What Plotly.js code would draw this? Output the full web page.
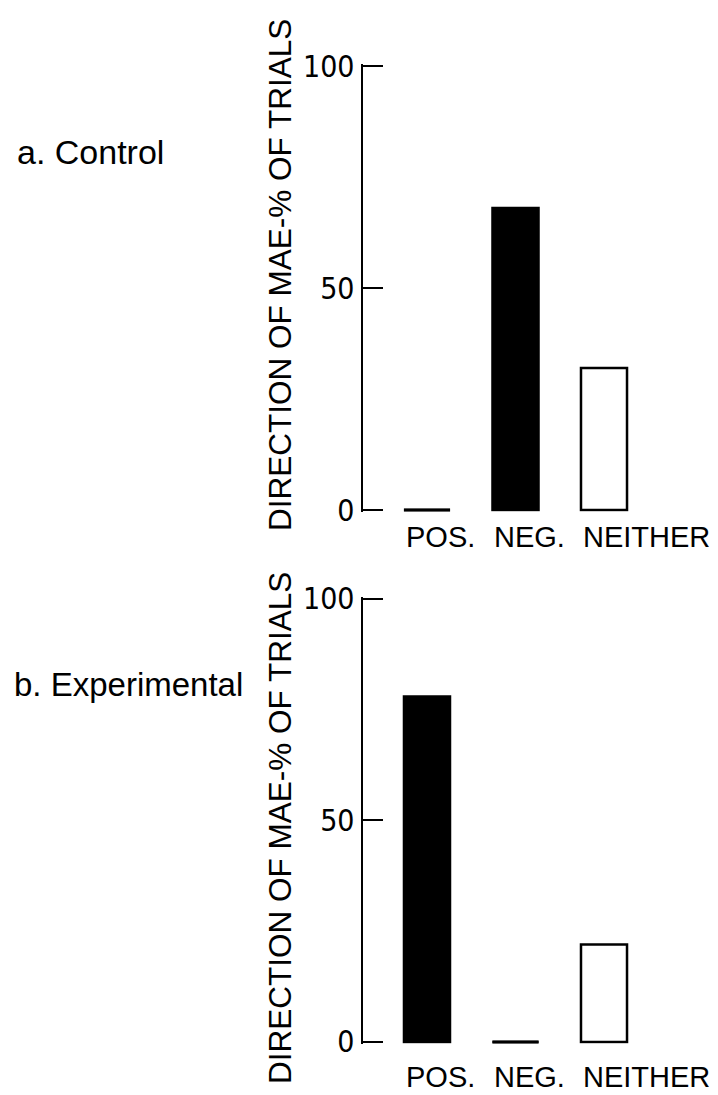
<!DOCTYPE html>
<html>
<head>
<meta charset="utf-8">
<script src="https://cdn.plot.ly/plotly-3.0.1.min.js"></script>
<style>html,body{margin:0;padding:0;background:#fff;}#chart{width:718px;height:1095px;}</style>
</head>
<body>
<div id="chart"></div>
<script>
// Data
const categories = ['POS.', 'NEG.', 'NEITHER'];
const controlValues = [0, 68, 32];
const experimentalValues = [78, 0, 22];
const barFills = ['black', 'black', 'white'];
const yTickVals = [0, 50, 100];
const yTickText = ['0', '50', '100'];
const panelLabels = ['a. Control', 'b. Experimental'];
const yTitle = 'DIRECTION OF MAE-% OF TRIALS';

const W = 718, H = 1095;
const catIdx = categories.map((c, i) => i);
const FONT = 'Liberation Sans, Arial, sans-serif';
const NARROW = 'Liberation Sans Narrow, DejaVu Sans Condensed, Arial Narrow, sans-serif';
const BAR_W = 0.52;

function barTrace(vals, xa, ya) {
  return {
    type: 'bar', x: catIdx, y: vals, xaxis: xa, yaxis: ya, width: BAR_W,
    marker: {color: barFills, line: {color: 'black', width: 2.5}},
    hoverinfo: 'skip', showlegend: false
  };
}
function zeroTrace(vals, xa, ya) {
  const xs = [], ys = [];
  vals.forEach((v, i) => { if (v === 0) { xs.push(i); ys.push(v); } });
  return {
    type: 'scatter', mode: 'markers', x: xs, y: ys, xaxis: xa, yaxis: ya,
    marker: {symbol: 'line-ew', size: 33, line: {color: 'black', width: 3}},
    hoverinfo: 'skip', showlegend: false, cliponaxis: false
  };
}

const data = [
  barTrace(controlValues, 'x', 'y'), zeroTrace(controlValues, 'x', 'y'),
  barTrace(experimentalValues, 'x2', 'y2'), zeroTrace(experimentalValues, 'x2', 'y2')
];

const xDom = [363 / W, 1];
const xRange = [-0.723, 3.288];
// y range padded slightly so the end ticks (0 and 100) are drawn
const yRange = [-0.4, 100.4];
function yDomain(px0, px100) {
  const per = (px0 - px100) / 100;
  return [1 - (px0 + 0.4 * per) / H, 1 - (px100 - 0.4 * per) / H];
}
const topDom = yDomain(510, 66);
const botDom = yDomain(1042, 599);

function xAxis(anchor) {
  return {
    domain: xDom, range: xRange, anchor: anchor,
    showticklabels: false, showline: false, showgrid: false, zeroline: false, ticks: '',
    fixedrange: true
  };
}
function yAxis(anchor, dom) {
  return {
    domain: dom, range: yRange, anchor: anchor,
    tickmode: 'array', tickvals: yTickVals, ticktext: yTickText,
    showline: true, linecolor: 'black', linewidth: 2.5,
    ticks: 'inside', ticklen: 20, tickwidth: 2, tickcolor: 'black',
    showgrid: false, zeroline: false,
    tickfont: {family: NARROW, size: 30, color: 'black'}, fixedrange: true
  };
}

const annotations = [
  {text: panelLabels[0], xref: 'paper', yref: 'paper', x: 15 / W, y: 1 - 152 / H,
   xanchor: 'left', yanchor: 'middle', showarrow: false,
   font: {family: FONT, size: 34, color: 'black'}},
  {text: panelLabels[1], xref: 'paper', yref: 'paper', x: 12 / W, y: 1 - 684 / H,
   xanchor: 'left', yanchor: 'middle', showarrow: false,
   font: {family: FONT, size: 33, color: 'black'}},
  {text: yTitle, xref: 'paper', yref: 'paper', x: 280 / W, y: 1 - 275 / H,
   xanchor: 'center', yanchor: 'middle', textangle: -90, showarrow: false,
   font: {family: FONT, size: 31.5, color: 'black'}},
  {text: yTitle, xref: 'paper', yref: 'paper', x: 280 / W, y: 1 - 828 / H,
   xanchor: 'center', yanchor: 'middle', textangle: -90, showarrow: false,
   font: {family: FONT, size: 31.5, color: 'black'}}
];
// category labels, left-aligned with each bar's left edge
[['x', 537], ['x2', 1077]].forEach(([xa, yc]) => {
  categories.forEach((c, i) => {
    annotations.push({
      text: c, xref: xa, yref: 'paper', x: i - BAR_W / 2, y: 1 - yc / H,
      xanchor: 'left', yanchor: 'middle', showarrow: false,
      font: {family: FONT, size: 29, color: 'black'}
    });
  });
});

const layout = {
  width: W, height: H,
  margin: {l: 0, r: 0, t: 0, b: 0},
  paper_bgcolor: 'white', plot_bgcolor: 'white',
  showlegend: false,
  xaxis: xAxis('y'), yaxis: yAxis('x', topDom),
  xaxis2: xAxis('y2'), yaxis2: yAxis('x2', botDom),
  annotations: annotations
};

Plotly.newPlot('chart', data, layout, {staticPlot: true, displayModeBar: false});
</script>
</body>
</html>
